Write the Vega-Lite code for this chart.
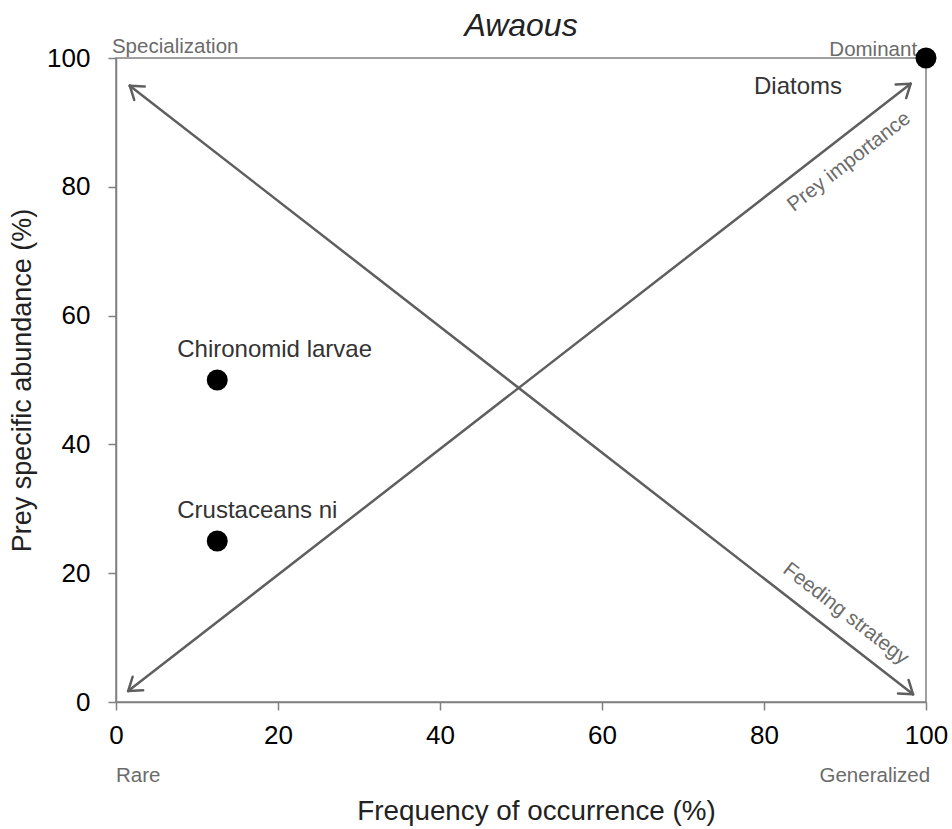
{
  "$schema": "https://vega.github.io/schema/vega-lite/v6.json",
  "autosize": "none",
  "width": 810,
  "height": 644,
  "padding": {"left": 116, "top": 58, "right": 26, "bottom": 127},
  "background": "white",
  "title": {
    "text": "Awaous",
    "fontStyle": "italic",
    "fontWeight": "normal",
    "font": "Liberation Sans",
    "fontSize": 32,
    "color": "#222222",
    "anchor": "middle",
    "frame": "group",
    "baseline": "alphabetic",
    "offset": 0,
    "dy": 31
  },
  "config": {
    "font": "Liberation Sans",
    "view": {"stroke": "#808080", "strokeWidth": 1.5},
    "axis": {
      "grid": false,
      "labelFlush": false,
      "domainColor": "#808080",
      "domainWidth": 1.5,
      "tickColor": "#808080",
      "tickWidth": 1.5,
      "tickSize": 8,
      "labelFont": "Liberation Sans",
      "labelFontSize": 26,
      "labelColor": "#000000",
      "titleFont": "Liberation Sans",
      "titleFontSize": 27,
      "titleFontWeight": "normal",
      "titleColor": "#222222"
    }
  },
  "datasets": {
    "prey": [
      {"prey": "Chironomid larvae", "freq": 12.5, "abund": 50},
      {"prey": "Crustaceans ni", "freq": 12.5, "abund": 25},
      {"prey": "Diatoms", "freq": 100, "abund": 100}
    ],
    "arrows": [
      {"part": "Prey importance shaft", "x": 1.5, "y": 1.7, "x2": 98.1, "y2": 96.0},
      {"part": "Prey importance head top a", "x": 98.1, "y": 96.0, "x2": 96.25, "y2": 95.89},
      {"part": "Prey importance head top b", "x": 98.1, "y": 96.0, "x2": 97.55, "y2": 93.78},
      {"part": "Prey importance head bottom a", "x": 1.5, "y": 1.7, "x2": 3.35, "y2": 1.81},
      {"part": "Prey importance head bottom b", "x": 1.5, "y": 1.7, "x2": 2.05, "y2": 3.92},
      {"part": "Feeding strategy shaft", "x": 1.7, "y": 95.7, "x2": 98.4, "y2": 1.2},
      {"part": "Feeding strategy head bottom a", "x": 98.4, "y": 1.2, "x2": 97.85, "y2": 3.42},
      {"part": "Feeding strategy head bottom b", "x": 98.4, "y": 1.2, "x2": 96.55, "y2": 1.31},
      {"part": "Feeding strategy head top a", "x": 1.7, "y": 95.7, "x2": 2.25, "y2": 93.48},
      {"part": "Feeding strategy head top b", "x": 1.7, "y": 95.7, "x2": 3.55, "y2": 95.59}
    ],
    "cornersLeft": [
      {"label": "Specialization", "x": -0.5, "y": 100.8},
      {"label": "Rare", "x": 0, "y": -12.4}
    ],
    "cornersRight": [
      {"label": "Dominant", "x": 98.9, "y": 100.3},
      {"label": "Generalized", "x": 100.5, "y": -12.4}
    ]
  },
  "encoding": {
    "x": {
      "type": "quantitative",
      "scale": {"domain": [0, 100], "nice": false},
      "axis": {"values": [0, 20, 40, 60, 80, 100], "title": "Frequency of occurrence (%)", "titleFontSize": 27.8, "titleX": 420, "labelPadding": 12, "titlePadding": 49}
    },
    "y": {
      "type": "quantitative",
      "scale": {"domain": [0, 100], "nice": false},
      "axis": {"values": [0, 20, 40, 60, 80, 100], "title": "Prey specific abundance (%)", "labelPadding": 18, "titlePadding": 10}
    }
  },
  "layer": [
    {
      "data": {"name": "arrows"},
      "mark": {"type": "rule", "color": "#5f5f5f", "strokeWidth": 2.5, "strokeCap": "round"},
      "encoding": {
        "x": {"field": "x", "type": "quantitative"},
        "y": {"field": "y", "type": "quantitative"},
        "x2": {"field": "x2"},
        "y2": {"field": "y2"}
      }
    },
    {
      "data": {"name": "cornersLeft"},
      "mark": {"type": "text", "align": "left", "baseline": "alphabetic", "fontSize": 20.5, "color": "#6b6b6b"},
      "encoding": {
        "x": {"field": "x", "type": "quantitative"},
        "y": {"field": "y", "type": "quantitative"},
        "text": {"field": "label"}
      }
    },
    {
      "data": {"name": "cornersRight"},
      "mark": {"type": "text", "align": "right", "baseline": "alphabetic", "fontSize": 20.5, "color": "#6b6b6b"},
      "encoding": {
        "x": {"field": "x", "type": "quantitative"},
        "y": {"field": "y", "type": "quantitative"},
        "text": {"field": "label"}
      }
    },
    {
      "data": {"values": [{"label": "Prey importance", "x": 90.5, "y": 83.9}]},
      "mark": {"type": "text", "align": "center", "baseline": "middle", "angle": 322.2, "fontSize": 20.5, "color": "#6b6b6b"},
      "encoding": {
        "x": {"field": "x", "type": "quantitative"},
        "y": {"field": "y", "type": "quantitative"},
        "text": {"field": "label"}
      }
    },
    {
      "data": {"values": [{"label": "Feeding strategy", "x": 90.1, "y": 13.7}]},
      "mark": {"type": "text", "align": "center", "baseline": "middle", "angle": 37.8, "fontSize": 20.5, "color": "#6b6b6b"},
      "encoding": {
        "x": {"field": "x", "type": "quantitative"},
        "y": {"field": "y", "type": "quantitative"},
        "text": {"field": "label"}
      }
    },
    {
      "data": {"name": "prey"},
      "mark": {"type": "point", "shape": "circle", "filled": true, "color": "#000000", "opacity": 1, "size": 440},
      "encoding": {
        "x": {"field": "freq", "type": "quantitative"},
        "y": {"field": "abund", "type": "quantitative"}
      }
    },
    {
      "data": {"name": "prey"},
      "transform": [{"filter": "datum.freq < 50"}],
      "mark": {"type": "text", "align": "left", "baseline": "alphabetic", "dx": -40, "dy": -23, "fontSize": 24, "color": "#333333"},
      "encoding": {
        "x": {"field": "freq", "type": "quantitative"},
        "y": {"field": "abund", "type": "quantitative"},
        "text": {"field": "prey"}
      }
    },
    {
      "data": {"name": "prey"},
      "transform": [{"filter": "datum.freq >= 50"}],
      "mark": {"type": "text", "align": "left", "baseline": "alphabetic", "dx": -172, "dy": 36, "fontSize": 24, "color": "#333333"},
      "encoding": {
        "x": {"field": "freq", "type": "quantitative"},
        "y": {"field": "abund", "type": "quantitative"},
        "text": {"field": "prey"}
      }
    }
  ]
}
